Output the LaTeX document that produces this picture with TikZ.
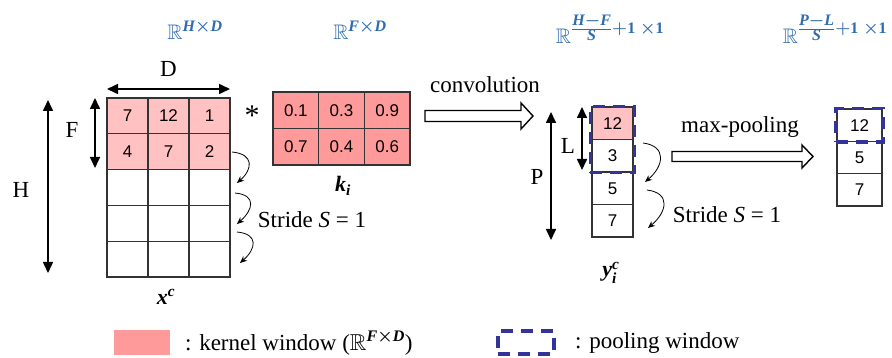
\documentclass[tikz,border=0pt]{standalone}
\usepackage{amsmath}
\usepackage{amssymb}
\usepackage{fontspec}
\setmainfont{Liberation Serif}
\newfontfamily\numfont{Liberation Sans}
\usetikzlibrary{arrows.meta,fit}
\DeclareMathSizes{21}{21}{16}{16}
\definecolor{lpink}{HTML}{FFC1C1}
\definecolor{kpink}{HTML}{FF9A9A}
\definecolor{rblue}{HTML}{2E6BB0}
\definecolor{pblue}{HTML}{333399}
\newcommand\mb[1]{\text{\bfseries\itshape #1}}
\newcommand\mbu[1]{\text{\bfseries #1}}
\begin{document}
\begin{tikzpicture}[x=1pt,y=-1pt,
  cellbase/.style={draw=black!80, line width=1.1pt, inner sep=0pt, anchor=center,
    font=\numfont\fontsize{17}{17}\selectfont},
  cell/.style={cellbase, minimum width=41pt, minimum height=35.8pt},
  kcell/.style={cellbase, fill=kpink, minimum width=45.67pt, minimum height=36.5pt},
  ycell/.style={cellbase, minimum width=41pt, minimum height=32.5pt},
  ocell/.style={cellbase, minimum width=45pt, minimum height=32.33pt},
  lbl/.style={inner sep=0pt, font=\fontsize{23}{26}\selectfont},
  blbl/.style={inner sep=0pt, text=rblue, font=\fontsize{21}{25}\selectfont},
  mlbl/.style={inner sep=0pt, font=\fontsize{22}{26}\selectfont},
  dimarr/.style={line width=1.6pt, {Triangle[length=11pt,width=10pt]}-{Triangle[length=11pt,width=10pt]}},
  curv/.style={line width=0.8pt, -{Stealth[length=7pt,width=6pt]}},
  pool/.style={draw=pblue, line width=3.3pt, dash pattern=on 12pt off 8pt, inner sep=0pt},
  hollow/.style={draw=black, line width=1.4pt, fill=white, line join=miter}
]
\useasboundingbox (0,0) rectangle (892,358);

% ---- input matrix x^c
\foreach \c/\v in {1/7,2/12,3/1}
  \node[cell,fill=lpink] (x1\c) at ({86.5+41*\c},115.9) {\v};
\foreach \c/\v in {1/4,2/7,3/2}
  \node[cell,fill=lpink] (x2\c) at ({86.5+41*\c},151.7) {\v};
\foreach \r/\yy in {3/187.5,4/223.3,5/259.1}
  \foreach \c in {1,2,3}
    \node[cell] (x\r\c) at ({86.5+41*\c},\yy) {};

% ---- kernel k_i
\foreach \c/\v in {1/0.1,2/0.3,3/0.9}
  \node[kcell] (k1\c) at ({250.17+45.67*\c},110.25) {\v};
\foreach \c/\v in {1/0.7,2/0.4,3/0.6}
  \node[kcell] (k2\c) at ({250.17+45.67*\c},146.75) {\v};

% ---- output y_i^c
\node[ycell,fill=lpink] (y1) at (612.5,123.25) {12};
\node[ycell] (y2) at (612.5,155.75) {3};
\node[ycell] (y3) at (612.5,188.25) {5};
\node[ycell] (y4) at (612.5,220.75) {7};

% ---- pooled output
\node[ocell] (o1) at (859.5,125.2) {12};
\node[ocell] (o2) at (859.5,157.5) {5};
\node[ocell] (o3) at (859.5,189.8) {7};

% pooling windows
\node[pool, fit=(y1)(y2), inner xsep=1pt, inner ysep=0pt] (pw1) {};
\node[pool, fit=(o1), inner xsep=0.5pt, inner ysep=0pt] (pw2) {};

% ---- dimension arrows
\coordinate (dL) at (107,89);  \coordinate (dR) at (230,89);
\coordinate (fT) at (95,98);   \coordinate (fB) at (95,168);
\coordinate (hT) at (48,100);  \coordinate (hB) at (48,273);
\coordinate (lT) at (582,107); \coordinate (lB) at (582,170);
\coordinate (pT) at (551,112); \coordinate (pB) at (551,240);
\draw[dimarr] (dL) -- (dR);
\draw[dimarr] (fT) -- (fB);
\draw[dimarr] (hT) -- (hB);
\draw[dimarr] (lT) -- (lB);
\draw[dimarr] (pT) -- (pB);
\node[lbl] (Dlab) at (168.5,69) {D};
\node[lbl] (Flab) at (72,130) {F};
\node[lbl] (Hlab) at (21,190) {H};
\node[lbl] (Llab) at (568,146) {L};
\node[lbl] (Plab) at (537,177) {P};

% asterisk
\node[inner sep=0pt, font=\fontsize{30}{30}\selectfont, anchor=base] (ast) at (252,126) {*};

% ---- stride arrows (left)
\coordinate (s1a) at (232,152); \coordinate (s1b) at (237,183);
\coordinate (s2a) at (235,193); \coordinate (s2b) at (237,224);
\coordinate (s3a) at (237,232); \coordinate (s3b) at (240,263);
\draw[curv] (s1a) .. controls +(22,2) and +(16,-14) .. (s1b);
\draw[curv] (s2a) .. controls +(22,2) and +(16,-14) .. (s2b);
\draw[curv] (s3a) .. controls +(22,2) and +(16,-14) .. (s3b);
\node[lbl] (strL) at (312,220) {Stride \textit{S} = 1};

% ---- stride arrows (right)
\coordinate (t1a) at (643,143); \coordinate (t1b) at (645,182);
\coordinate (t2a) at (647,190); \coordinate (t2b) at (648,228);
\draw[curv] (t1a) .. controls +(24,3) and +(19,-16) .. (t1b);
\draw[curv] (t2a) .. controls +(24,3) and +(19,-16) .. (t2b);
\node[lbl] (strR) at (727,215) {Stride \textit{S} = 1};

% ---- hollow arrows
\draw[hollow] (425,110.5) -- (521,110.5) -- (521,103) -- (533,116) -- (521,129) -- (521,121.5) -- (425,121.5) -- cycle;
\node[lbl] (convlab) at (485,85) {convolution};
\draw[hollow] (672,151.5) -- (802,151.5) -- (802,145) -- (813,156.5) -- (802,168) -- (802,161.5) -- (672,161.5) -- cycle;
\node[lbl] (poollab) at (740,127) {max-pooling};

% ---- names under
\node[mlbl] (xlab) at (166,297) {$\mb{x}^{\mb{c}}$};
\node[mlbl] (klab) at (343,186) {$\mb{k}_{\mb{i}}$};
\node[mlbl] (ylab) at (611,273) {$\mb{y}_{\mb{i}}^{\mb{c}}$};

% ---- spaces
\node[blbl] (r1) at (195,30) {$\mathbb{R}^{\mb{H}\boldsymbol{\times}\mb{D}}$};
\node[blbl] (r2) at (360,30) {$\mathbb{R}^{\mb{F}\boldsymbol{\times}\mb{D}}$};
\node[blbl] (r3) at (610,29) {$\mathbb{R}^{\frac{\mb{H}\boldsymbol{-}\mb{F}}{\mb{S}}\boldsymbol{+}\mbu{1}\;\boldsymbol{\times}\mbu{1}}$};
\node[blbl] (r4) at (835,29) {$\mathbb{R}^{\frac{\mb{P}\boldsymbol{-}\mb{L}}{\mb{S}}\boldsymbol{+}\mbu{1}\;\boldsymbol{\times}\mbu{1}}$};

% ---- legend
\node[draw=none, fill=kpink, minimum width=56pt, minimum height=25pt, inner sep=0pt] (legk) at (142,342.5) {};
\node[lbl, anchor=west] (legkt) at (185,343) {: kernel window ($\mathbb{R}^{\mb{F}\boldsymbol{\times}\mb{D}}$)};
\node[pool, minimum width=56pt, minimum height=23pt] (legp) at (526,342.5) {};
\node[lbl, anchor=west] (legpt) at (575,343) {: pooling window};
\end{tikzpicture}
\end{document}
